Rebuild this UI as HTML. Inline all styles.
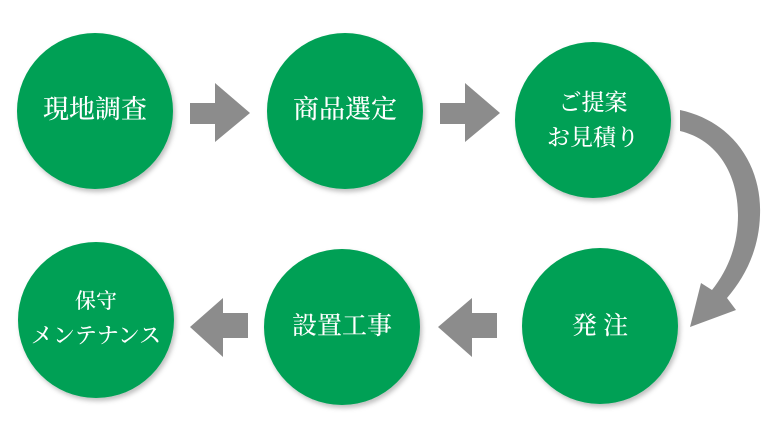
<!DOCTYPE html>
<html><head><meta charset="utf-8"><style>
html,body{margin:0;padding:0;background:#fff;}
svg text{font-family:"Liberation Serif","Noto Serif CJK SC",serif;fill:#fff;text-anchor:middle;font-weight:500;}
</style></head><body>
<svg width="768" height="437" viewBox="0 0 768 437" xmlns="http://www.w3.org/2000/svg">
<defs><filter id="s" x="-20%" y="-20%" width="140%" height="140%"><feDropShadow dx="2" dy="3" stdDeviation="2.5" flood-color="#000" flood-opacity="0.25"/></filter></defs>
<g fill="#02a055" filter="url(#s)">
<circle cx="95" cy="111" r="78"/>
<circle cx="345" cy="111" r="78"/>
<circle cx="593" cy="120" r="78"/>
<circle cx="600" cy="326" r="78"/>
<circle cx="342" cy="327" r="78"/>
<circle cx="96" cy="320" r="78"/>
</g>
<g fill="#8c8c8c">
<polygon points="190,103 215,103 215,83 250,113 215,142 215,124 190,124"/>
<polygon points="440,103 465,103 465,83 500,113 465,142 465,124 440,124"/>
<polygon points="248,313 223,313 223,298 190,327 223,357 223,338 248,338"/>
<polygon points="497,313 472,313 472,298 438,327 472,357 472,338 497,338"/>
<path d="M680,110 C735,122 762,168 760,215 C759,250 745,277 727,298 L736,310 L690,327 L701,283 L712,290 C728,270 738,245 738,215 C738,175 718,140 680,131 Z"/>
</g>
<text x="95" y="118" font-size="26">現地調査</text>
<text x="345" y="118" font-size="26">商品選定</text>
<text x="593" y="110" font-size="23">ご提案</text>
<text x="593" y="145" font-size="23">お見積り</text>
<text x="600" y="334" font-size="25">発 注</text>
<text x="342" y="334" font-size="25">設置工事</text>
<text x="96" y="308" font-size="21">保守</text>
<text x="96" y="343" font-size="22">メンテナンス</text>
</svg>
</body></html>
